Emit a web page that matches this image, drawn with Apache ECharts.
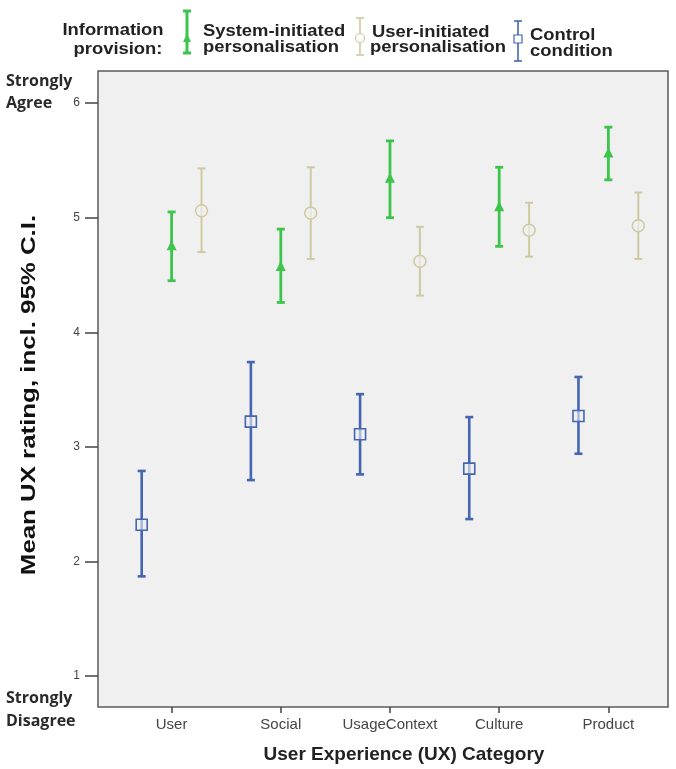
<!DOCTYPE html>
<html>
<head>
<meta charset="utf-8">
<script src="https://cdn.jsdelivr.net/npm/echarts@6/dist/echarts.min.js"></script>
<style>
html,body{margin:0;padding:0;background:#fff;}
#chart{width:676px;height:769px;}
</style>
</head>
<body>
<div id="chart"></div>
<script>
// ---- data ----
const categories = ['User', 'Social', 'UsageContext', 'Culture', 'Product'];
const yTicks = [1, 2, 3, 4, 5, 6];

const sysMean = [4.75, 4.57, 5.34, 5.09, 5.56];
const sysLow  = [4.45, 4.26, 5.00, 4.75, 5.33];
const sysHigh = [5.05, 4.90, 5.67, 5.44, 5.79];

const userMean = [5.06, 5.04, 4.62, 4.89, 4.93];
const userLow  = [4.70, 4.64, 4.32, 4.66, 4.64];
const userHigh = [5.43, 5.44, 4.92, 5.13, 5.22];

const ctrlMean = [2.32, 3.22, 3.11, 2.81, 3.27];
const ctrlLow  = [1.87, 2.71, 2.76, 2.37, 2.94];
const ctrlHigh = [2.79, 3.74, 3.46, 3.26, 3.61];

const GREEN = '#3cc54a';
const BEIGE = '#cfc9a2';
const BLUE = '#4466b0';

function rows(mean, low, high, off) {
  return categories.map((c, i) => [i + off, low[i], high[i], mean[i]]);
}

function makeRender(kind, color, lw, cw) {
  return function (params, api) {
    const x = api.value(0);
    const p1 = api.coord([x, api.value(1)]);
    const p2 = api.coord([x, api.value(2)]);
    const pm = api.coord([x, api.value(3)]);
    const st = { stroke: color, lineWidth: lw };
    const ch = [
      { type: 'line', shape: { x1: p1[0], y1: p1[1], x2: p2[0], y2: p2[1] }, style: st },
      { type: 'line', shape: { x1: p1[0] - cw, y1: p1[1], x2: p1[0] + cw, y2: p1[1] }, style: st },
      { type: 'line', shape: { x1: p2[0] - cw, y1: p2[1], x2: p2[0] + cw, y2: p2[1] }, style: st }
    ];
    const mx = pm[0], my = pm[1];
    if (kind === 'tri') {
      ch.push({ type: 'polygon', shape: { points: [[mx, my - 6], [mx - 5, my + 4], [mx + 5, my + 4]] }, style: { fill: color } });
    } else if (kind === 'circle') {
      ch.push({ type: 'circle', shape: { cx: mx, cy: my, r: 6 }, style: { fill: 'rgba(240,240,240,0.7)', stroke: color, lineWidth: 1.5 } });
    } else {
      ch.push({ type: 'rect', shape: { x: mx - 5.5, y: my - 5.5, width: 11, height: 11 }, style: { fill: 'rgba(240,240,240,0.6)', stroke: color, lineWidth: 1.6 } });
    }
    return { type: 'group', children: ch };
  };
}

const chart = echarts.init(document.getElementById('chart'));
const boldFont = '"Liberation Sans", Arial, sans-serif';

function legendIcon(x, y1, y2, color, lw, kind, my) {
  const st = { stroke: color, lineWidth: lw };
  const arr = [
    { type: 'line', shape: { x1: x, y1: y1, x2: x, y2: y2 }, style: st },
    { type: 'line', shape: { x1: x - 4, y1: y1, x2: x + 4, y2: y1 }, style: st },
    { type: 'line', shape: { x1: x - 4, y1: y2, x2: x + 4, y2: y2 }, style: st }
  ];
  if (kind === 'tri') arr.push({ type: 'polygon', shape: { points: [[x, my - 5], [x - 4, my + 3], [x + 4, my + 3]] }, style: { fill: color } });
  if (kind === 'circle') arr.push({ type: 'circle', shape: { cx: x, cy: my, r: 4.5 }, style: { fill: '#fff', stroke: color, lineWidth: 1.2 } });
  if (kind === 'rect') arr.push({ type: 'rect', shape: { x: x - 4, y: my - 4, width: 8, height: 8 }, style: { fill: '#fff', stroke: color, lineWidth: 1.2 } });
  return arr;
}

function txt(x, y, s, opts, sx) {
  return { type: 'text', x: x, y: y, scaleX: sx || 1, style: Object.assign({ text: s, font: 'bold 16px ' + boldFont, fill: '#222', textVerticalAlign: 'middle' }, opts || {}) };
}

const sideFont = 'bold 16px "Open Sans", Arial, sans-serif';
const LS = 1.15;

const option = {
  animation: false,
  grid: {
    left: 98, right: 8, top: 71, bottom: 59,
    show: true, backgroundColor: '#f0f0f0', borderColor: '#5a5a5a', borderWidth: 1.5
  },
  xAxis: {
    type: 'value', min: -0.674, max: 4.546,
    splitLine: { show: false },
    axisLine: { show: false, onZero: false },
    axisTick: { show: true, length: 6, customValues: [0, 1, 2, 3, 4], lineStyle: { color: '#444', width: 1.5 } },
    axisLabel: {
      customValues: [0, 1, 2, 3, 4],
      formatter: v => categories[Math.round(v)],
      color: '#444', fontSize: 15, fontFamily: 'Arial, sans-serif', margin: 10
    },
    name: 'User Experience (UX) Category', nameLocation: 'middle', nameGap: 38,
    nameTextStyle: { fontWeight: 'bold', fontSize: 19, color: '#222', fontFamily: boldFont, padding: [0, 0, 0, 42] }
  },
  yAxis: {
    type: 'value', min: 0.73, max: 6.28,
    splitLine: { show: false },
    axisLine: { show: false, onZero: false },
    axisTick: { show: true, length: 13, customValues: yTicks, lineStyle: { color: '#444', width: 1.5 } },
    axisLabel: { customValues: yTicks, color: '#444', fontSize: 12, fontFamily: 'Arial, sans-serif', margin: 18 }
  },
  series: [
    { type: 'custom', name: 'Control condition', renderItem: makeRender('rect', BLUE, 2.6, 4), data: rows(ctrlMean, ctrlLow, ctrlHigh, -0.274), encode: { x: 0, y: [1, 2, 3] }, z: 3 },
    { type: 'custom', name: 'System-initiated personalisation', renderItem: makeRender('tri', GREEN, 2.8, 4), data: rows(sysMean, sysLow, sysHigh, 0), encode: { x: 0, y: [1, 2, 3] }, z: 3 },
    { type: 'custom', name: 'User-initiated personalisation', renderItem: makeRender('circle', BEIGE, 2, 4), data: rows(userMean, userLow, userHigh, 0.274), encode: { x: 0, y: [1, 2, 3] }, z: 3 }
  ],
  graphic: [].concat(
    [
      { type: 'text', x: 29, y: 395, rotation: Math.PI / 2, scaleX: 1.23,
        style: { text: 'Mean UX rating, incl. 95% C.I.', font: 'bold 21px ' + boldFont, fill: '#111', textAlign: 'center', textVerticalAlign: 'middle' } },
      txt(113, 31, 'Information', { textAlign: 'center' }, LS),
      txt(118, 50, 'provision:', { textAlign: 'center' }, LS),
      txt(203, 32, 'System-initiated', null, LS),
      txt(203, 48, 'personalisation', null, LS),
      txt(372, 33, 'User-initiated', null, LS),
      txt(370, 48, 'personalisation', null, LS),
      txt(530, 36, 'Control', null, LS),
      txt(530, 52, 'condition', null, LS),
      txt(6, 81, 'Strongly', { font: sideFont, fill: '#2a2a2a' }),
      txt(6, 103, 'Agree', { font: sideFont, fill: '#2a2a2a' }),
      txt(6, 698, 'Strongly', { font: sideFont, fill: '#2a2a2a' }),
      txt(6, 721, 'Disagree', { font: sideFont, fill: '#2a2a2a' })
    ],
    legendIcon(187, 11, 53, GREEN, 3, 'tri', 39),
    legendIcon(360, 18, 55, BEIGE, 1.6, 'circle', 38),
    legendIcon(518, 21, 61, BLUE, 1.6, 'rect', 39)
  )
};
chart.setOption(option);
</script>
</body>
</html>
